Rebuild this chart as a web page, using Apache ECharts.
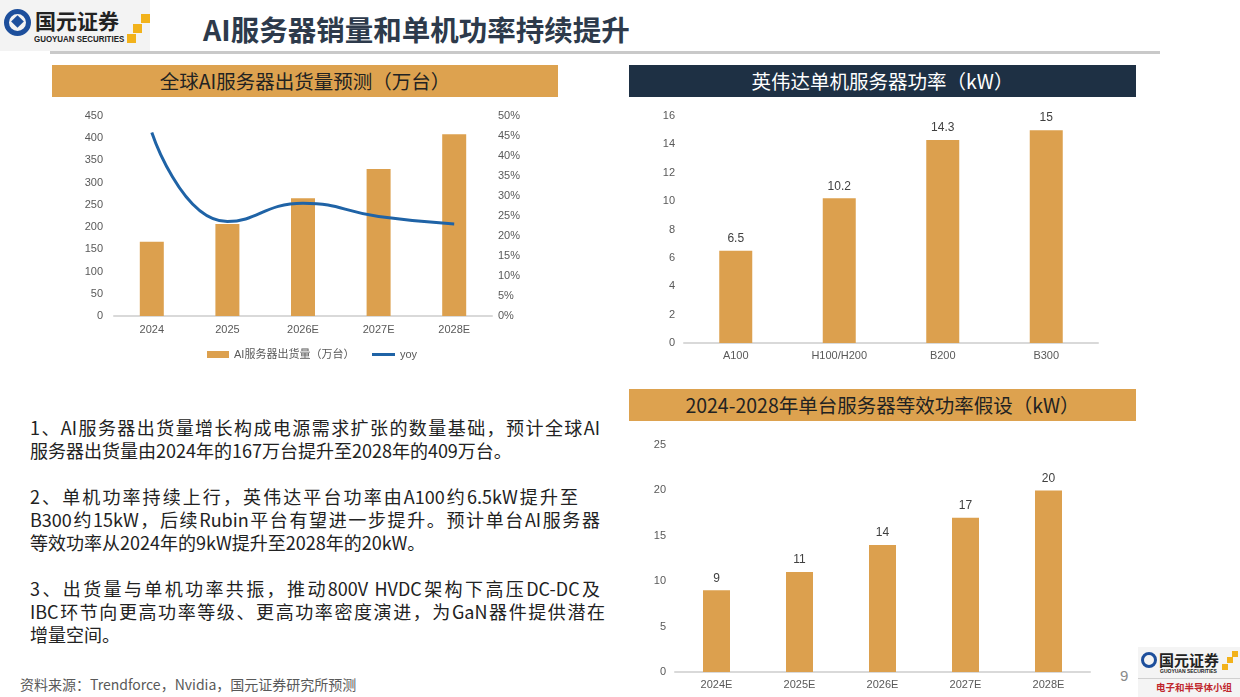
<!DOCTYPE html>
<html><head><meta charset="utf-8">
<script src="https://cdn.jsdelivr.net/npm/echarts@6/dist/echarts.min.js"></script>
<style>
html,body{margin:0;padding:0;background:#fff;}
body{width:1240px;height:697px;position:relative;overflow:hidden;font-family:"Noto Sans CJK SC","Noto Sans",sans-serif;}
.abs{position:absolute;}
.banner{position:absolute;height:32px;line-height:32px;text-align:center;font-size:19.5px;}
.line{position:absolute;left:30px;font-size:18px;line-height:23px;color:#222;white-space:nowrap;text-align:justify;text-align-last:justify;}
#chart{position:absolute;left:0;top:0;width:1240px;height:697px;}
</style></head>
<body>
<!-- header logo -->
<div class="abs" style="left:0;top:0;width:150px;height:51px;background:#f3f3f3;"></div>
<div class="abs" style="left:4px;top:9px;width:27px;height:27px;border:5px solid #1d4f9c;border-radius:50%;box-sizing:border-box;"></div>
<div class="abs" style="left:13px;top:17px;width:9px;height:9px;background:#1d4f9c;transform:rotate(45deg);"></div>
<div class="abs" style="left:35px;top:5px;font-size:21px;font-weight:bold;color:#222;">国元证券</div>
<div class="abs" style="left:34px;top:34px;font-size:9px;font-weight:bold;color:#222;font-family:'Liberation Sans',Arial,sans-serif;transform:scaleX(0.88);transform-origin:left top;white-space:nowrap;">GUOYUAN SECURITIES</div>
<div class="abs" style="left:127px;top:34px;width:9px;height:9px;background:#f2b21b;"></div>
<div class="abs" style="left:133px;top:24px;width:9px;height:9px;background:#f2b21b;"></div>
<div class="abs" style="left:141px;top:14px;width:9px;height:9px;background:#f2b21b;"></div>
<div class="abs" style="left:203px;top:8px;font-size:28.5px;font-weight:bold;color:#2d3a4b;">AI服务器销量和单机功率持续提升</div>
<div class="abs" style="left:50px;top:51px;width:1110px;height:3px;background:#c9c9c9;"></div>

<!-- banners -->
<div class="banner" style="left:52px;top:65px;width:506px;background:#dda24f;color:#222;">全球AI服务器出货量预测（万台）</div>
<div class="banner" style="left:629px;top:65px;width:507px;background:#1e3044;color:#fff;">英伟达单机服务器功率（kW）</div>
<div class="banner" style="left:629px;top:389px;width:507px;background:#dda24f;color:#222;">2024-2028年单台服务器等效功率假设（kW）</div>

<!-- body text -->
<div class="line" style="top:416px;width:570px;">1、AI服务器出货量增长构成电源需求扩张的数量基础，预计全球AI</div>
<div class="line" style="top:439px;width:417px;">服务器出货量由2024年的167万台提升至2028年的409万台。</div>
<div class="line" style="top:485px;width:548px;">2、单机功率持续上行，英伟达平台功率由A100约6.5kW提升至</div>
<div class="line" style="top:508px;width:570px;">B300约15kW，后续Rubin平台有望进一步提升。预计单台AI服务器</div>
<div class="line" style="top:531px;width:347px;">等效功率从2024年的9kW提升至2028年的20kW。</div>
<div class="line" style="top:577px;width:570px;">3、出货量与单机功率共振，推动800V HVDC架构下高压DC-DC及</div>
<div class="line" style="top:600px;width:575px;">IBC环节向更高功率等级、更高功率密度演进，为GaN器件提供潜在</div>
<div class="line" style="top:623px;width:68px;">增量空间。</div>

<div class="abs" style="left:20px;top:674px;font-size:14px;color:#595959;">资料来源：Trendforce，Nvidia，国元证券研究所预测</div>
<div class="abs" style="left:1120px;top:667px;font-size:15px;color:#8a8a8a;font-family:'Liberation Sans',Arial,sans-serif;">9</div>

<!-- bottom-right logo -->
<div class="abs" style="left:1138px;top:647px;width:102px;height:50px;background:#f4f4f4;"></div>
<div class="abs" style="left:1141px;top:652px;width:16px;height:16px;border:3px solid #1d4f9c;border-radius:50%;box-sizing:border-box;"></div>
<div class="abs" style="left:1159px;top:649px;font-size:15px;font-weight:bold;color:#222;">国元证券</div>
<div class="abs" style="left:1160px;top:668px;font-size:5px;font-weight:bold;color:#222;font-family:'Liberation Sans',Arial,sans-serif;">GUOYUAN SECURITIES</div>
<div class="abs" style="left:1222px;top:664px;width:6px;height:6px;background:#f2b21b;"></div>
<div class="abs" style="left:1227px;top:657px;width:6px;height:6px;background:#f2b21b;"></div>
<div class="abs" style="left:1232px;top:651px;width:6px;height:6px;background:#f2b21b;"></div>
<div class="abs" style="left:1138px;top:678px;width:102px;height:1px;background:#d0d0d0;"></div>
<div class="abs" style="left:1156px;top:680px;font-size:9.5px;font-weight:bold;color:#c0262c;">电子和半导体小组</div>

<div id="chart"></div>
<script>
// ---- data ----
const shipCategories = ['2024', '2025', '2026E', '2027E', '2028E'];
const shipValues = [167, 207, 265, 331, 409];
const yoyValues = [45.9, 23.6, 28.2, 24.9, 23.0];
const shipAxisTicks = [0, 50, 100, 150, 200, 250, 300, 350, 400, 450];

const gpuCategories = ['A100', 'H100/H200', 'B200', 'B300'];
const gpuPower = [6.5, 10.2, 14.3, 15];

const yearCategories = ['2024E', '2025E', '2026E', '2027E', '2028E'];
const serverPower = [9, 11, 14, 17, 20];

const barColor = '#dca04e';
const lineColor = '#1f63a6';
const axisLabel = {color: '#595959', fontSize: 11, fontFamily: 'Liberation Sans, Arial, sans-serif'};
const axisLineStyle = {show: true, lineStyle: {color: '#d9d9d9', width: 2}};
const legendText = {color: '#595959', fontSize: 11, fontFamily: 'Liberation Sans, "Noto Sans CJK SC", sans-serif'};

const chart = echarts.init(document.getElementById('chart'), null, {renderer: 'canvas'});
chart.setOption({
  backgroundColor: 'transparent',
  animation: false,
  textStyle: {fontFamily: 'Liberation Sans, Arial, "Noto Sans CJK SC", sans-serif'},
  legend: [
    {left: 202, top: 344, itemWidth: 22, itemHeight: 7, textStyle: legendText,
      data: [{name: 'AI服务器出货量（万台）', icon: 'rect'}]},
    {left: 367, top: 344, itemWidth: 23, itemHeight: 3, itemGap: 3, textStyle: legendText,
      data: [{name: 'yoy', icon: 'rect', itemStyle: {color: lineColor}}]}
  ],
  grid: [
    {left: 114, right: 748, top: 116, bottom: 381},
    {left: 684, right: 142, top: 116, bottom: 354},
    {left: 675, right: 150, top: 445, bottom: 25}
  ],
  xAxis: [
    {gridIndex: 0, type: 'category', data: shipCategories, axisTick: {show: false}, axisLine: axisLineStyle,
      axisLabel: Object.assign({margin: 8}, axisLabel)},
    {gridIndex: 1, type: 'category', data: gpuCategories, axisTick: {show: false}, axisLine: axisLineStyle,
      axisLabel: Object.assign({margin: 7}, axisLabel)},
    {gridIndex: 2, type: 'category', data: yearCategories, axisTick: {show: false}, axisLine: axisLineStyle,
      axisLabel: Object.assign({margin: 7}, axisLabel)}
  ],
  yAxis: [
    {gridIndex: 0, type: 'value', min: shipAxisTicks[0], max: shipAxisTicks[shipAxisTicks.length - 1], interval: 50,
      splitLine: {show: false}, axisLine: {show: false}, axisLabel: Object.assign({margin: 11}, axisLabel)},
    {gridIndex: 0, type: 'value', min: 0, max: 50, interval: 5, position: 'right',
      splitLine: {show: false}, axisLine: {show: false},
      axisLabel: Object.assign({margin: 6, formatter: '{value}%'}, axisLabel)},
    {gridIndex: 1, type: 'value', min: 0, max: 16, interval: 2,
      splitLine: {show: false}, axisLine: {show: false}, axisLabel: Object.assign({margin: 9}, axisLabel)},
    {gridIndex: 2, type: 'value', min: 0, max: 25, interval: 5,
      splitLine: {show: false}, axisLine: {show: false}, axisLabel: Object.assign({margin: 9}, axisLabel)}
  ],
  series: [
    {name: 'AI服务器出货量（万台）', type: 'bar', xAxisIndex: 0, yAxisIndex: 0, data: shipValues,
      barWidth: 24, itemStyle: {color: barColor}},
    {name: 'yoy', type: 'line', xAxisIndex: 0, yAxisIndex: 1, data: yoyValues, smooth: 0.5,
      symbol: 'none', lineStyle: {color: lineColor, width: 3}, itemStyle: {color: lineColor}},
    {name: 'gpu', type: 'bar', xAxisIndex: 1, yAxisIndex: 2, data: gpuPower, barWidth: 33,
      itemStyle: {color: barColor},
      label: {show: true, position: 'top', distance: 6, color: '#404040', fontSize: 12}},
    {name: 'server', type: 'bar', xAxisIndex: 2, yAxisIndex: 3, data: serverPower, barWidth: 27,
      itemStyle: {color: barColor},
      label: {show: true, position: 'top', distance: 6, color: '#404040', fontSize: 12}}
  ]
});
</script>
</body></html>
